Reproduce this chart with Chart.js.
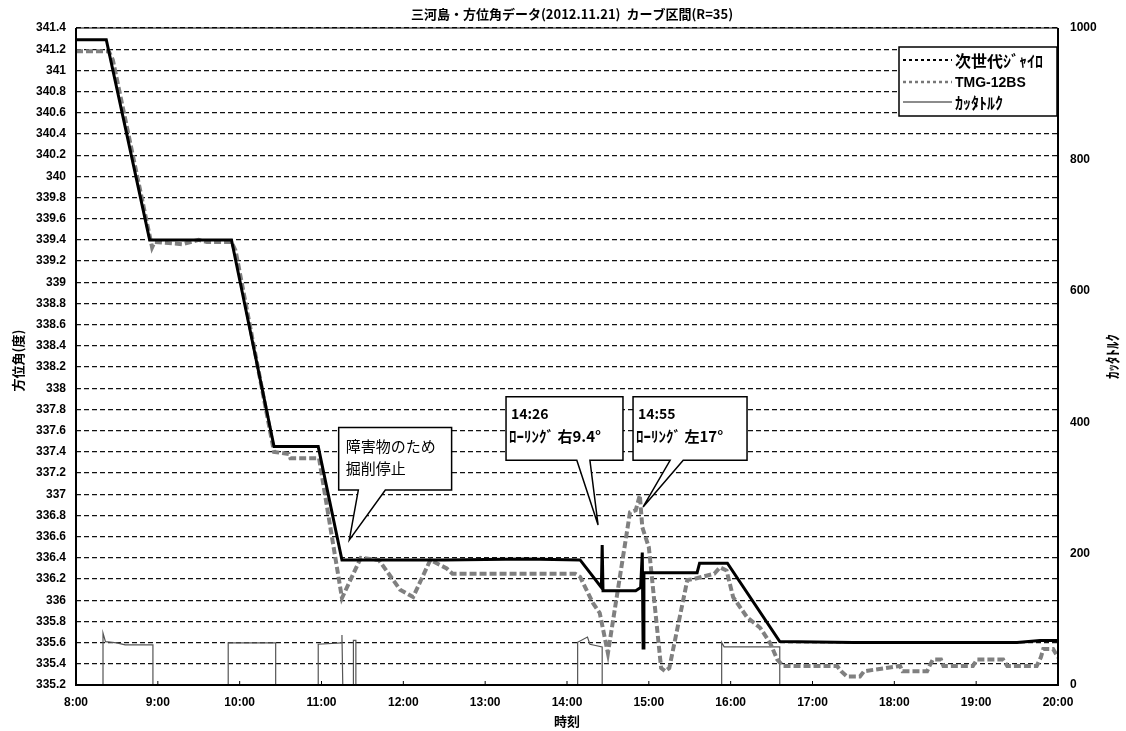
<!DOCTYPE html>
<html>
<head>
<meta charset="utf-8">
<script src="https://cdn.jsdelivr.net/npm/chart.js@4"></script>
<style>
  html, body { margin: 0; padding: 0; background: #fff; }
  #wrap { width: 1126px; height: 731px; }
</style>
</head>
<body>
<div id="wrap"><canvas id="chart" width="1126" height="731"></canvas></div>
<script>
// 次世代ジャイロ (時刻[h], 方位角[度])
const gyroTime = [8.0, 8.37, 8.9, 9.9, 10.42, 10.96, 11.25, 12.5, 13.5, 14.16, 14.42, 14.43, 14.44, 14.84, 14.9, 14.92, 14.93, 14.94, 15.59, 15.62, 15.96, 16.6, 17.5, 18.5, 19.5, 19.78, 20.0];
const gyroAngle = [341.29, 341.29, 339.40, 339.40, 337.45, 337.45, 336.38, 336.38, 336.39, 336.38, 336.12, 336.52, 336.09, 336.09, 336.12, 336.45, 335.55, 336.26, 336.26, 336.35, 336.35, 335.61, 335.60, 335.60, 335.60, 335.62, 335.62];

// TMG-12BS
const tmgTime = [8.0, 8.4, 8.45, 8.93, 8.96, 9.3, 9.5, 9.6, 9.9, 9.95, 10.42, 10.6, 10.62, 10.97, 11.25, 11.48, 11.7, 11.96, 12.12, 12.33, 12.53, 12.6, 14.1, 14.16, 14.32, 14.4, 14.5, 14.77, 14.84, 14.89, 14.92, 15.0, 15.15, 15.2, 15.25, 15.47, 15.55, 15.65, 15.8, 15.87, 15.95, 16.03, 16.2, 16.36, 16.48, 16.57, 16.64, 17.3, 17.35, 17.42, 17.58, 17.63, 18.07, 18.1, 18.4, 18.43, 18.47, 18.57, 18.6, 18.96, 19.01, 19.33, 19.38, 19.74, 19.79, 19.82, 19.94, 20.0];
const tmgAngle = [341.18, 341.18, 341.10, 339.33, 339.38, 339.36, 339.40, 339.38, 339.38, 339.30, 337.40, 337.38, 337.34, 337.34, 336.02, 336.40, 336.38, 336.10, 336.03, 336.38, 336.30, 336.25, 336.25, 336.22, 335.97, 335.88, 335.50, 336.83, 336.85, 336.99, 336.69, 336.50, 335.36, 335.33, 335.36, 336.19, 336.20, 336.22, 336.25, 336.31, 336.28, 336.03, 335.84, 335.74, 335.60, 335.44, 335.38, 335.38, 335.33, 335.28, 335.28, 335.33, 335.38, 335.33, 335.33, 335.38, 335.44, 335.44, 335.38, 335.38, 335.44, 335.44, 335.38, 335.38, 335.46, 335.54, 335.54, 335.46];

// カッタトルク (右軸)
const torqueTime = [8.0, 8.33, 8.33, 8.36, 8.5, 8.6, 8.94, 8.94, 9.86, 9.86, 10.44, 10.44, 10.96, 10.96, 11.24, 11.25, 11.26, 11.39, 11.39, 11.42, 11.42, 14.13, 14.13, 14.25, 14.28, 14.43, 14.43, 15.89, 15.89, 15.92, 16.6, 16.6, 20.0];
const torqueValue = [0, 0, 79, 66, 64, 61, 61, 0, 0, 64, 64, 0, 0, 62, 64, 76, 0, 0, 68, 68, 0, 0, 65, 73, 62, 58, 0, 0, 65, 58, 58, 0, 0];

const seriesNames = ['次世代ｼﾞｬｲﾛ', 'TMG-12BS', 'ｶｯﾀﾄﾙｸ'];
const chartTitle = '三河島・方位角データ(2012.11.21)  カーブ区間(R=35)';

// 吹き出し: 枠(時刻・角度)、根元、先端
const callouts = [
  { lines: ['障害物のため', '掘削停止'], t0: 11.21, t1: 12.59, v0: 337.63, v1: 337.04, b0: 11.45, b1: 11.78, tipT: 11.34, tipV: 336.57, big: true },
  { lines: ['14:26', 'ﾛｰﾘﾝｸﾞ 右9.4°'], t0: 13.255, t1: 14.684, v0: 337.92, v1: 337.32, b0: 14.12, b1: 14.28, tipT: 14.38, tipV: 336.71 },
  { lines: ['14:55', 'ﾛｰﾘﾝｸﾞ 左17°'], t0: 14.807, t1: 16.2, v0: 337.92, v1: 337.32, b0: 15.26, b1: 15.42, tipT: 14.93, tipV: 336.88 }
];

const toPoints = (xs, ys) => xs.map((x, i) => ({ x, y: ys[i] }));

const numFont = "'Liberation Sans', Arial, sans-serif";
const jpFont = "'Noto Sans CJK JP', sans-serif";

const decorPlugin = {
  id: 'decor',
  afterDraw(chart) {
    const { ctx, chartArea: a, scales } = chart;
    const xs = scales.x, ys = scales.y;
    ctx.save();

    // 枠
    ctx.strokeStyle = '#000';
    ctx.setLineDash([]);
    ctx.lineWidth = 1;
    ctx.beginPath(); ctx.moveTo(a.left, a.top); ctx.lineTo(a.right, a.top); ctx.stroke();
    ctx.lineWidth = 2;
    ctx.beginPath();
    ctx.moveTo(a.left, a.top); ctx.lineTo(a.left, a.bottom); ctx.lineTo(a.right, a.bottom); ctx.lineTo(a.right, a.top);
    ctx.stroke();

    // x軸 内向き目盛
    ctx.lineWidth = 1;
    for (let h = 9; h < 20; h++) {
      const px = xs.getPixelForValue(h);
      ctx.beginPath(); ctx.moveTo(px, a.bottom); ctx.lineTo(px, a.bottom - 4); ctx.stroke();
    }

    // タイトル
    ctx.fillStyle = '#000';
    ctx.textAlign = 'center';
    ctx.textBaseline = 'middle';
    ctx.font = 'bold 13px ' + jpFont;
    ctx.fillText(chartTitle, (a.left + a.right) / 2 + 5, 14);
    ctx.fillText('時刻', (a.left + a.right) / 2, 721);

    // 軸タイトル
    const midY = (a.top + a.bottom) / 2;
    ctx.save(); ctx.translate(18, midY + 4); ctx.rotate(-Math.PI / 2);
    ctx.fillText('方位角(度)', 0, 0); ctx.restore();
    ctx.save(); ctx.translate(1112, midY); ctx.rotate(-Math.PI / 2);
    ctx.font = 'bold 15px ' + jpFont;
    ctx.fillText('ｶｯﾀﾄﾙｸ', 0, 0); ctx.restore();

    // 吹き出し
    callouts.forEach(c => {
      const L = xs.getPixelForValue(c.t0), R = xs.getPixelForValue(c.t1);
      const T = ys.getPixelForValue(c.v0), B = ys.getPixelForValue(c.v1);
      const bx0 = xs.getPixelForValue(c.b0), bx1 = xs.getPixelForValue(c.b1);
      const tx = xs.getPixelForValue(c.tipT), ty = ys.getPixelForValue(c.tipV);
      ctx.beginPath();
      ctx.moveTo(L, T); ctx.lineTo(R, T); ctx.lineTo(R, B);
      ctx.lineTo(bx1, B); ctx.lineTo(tx, ty); ctx.lineTo(bx0, B);
      ctx.lineTo(L, B); ctx.closePath();
      ctx.fillStyle = '#fff'; ctx.fill();
      ctx.lineWidth = 1.5; ctx.strokeStyle = '#000'; ctx.stroke();
      ctx.fillStyle = '#000';
      ctx.textAlign = 'left';
      if (c.big) {
        ctx.font = '15px ' + jpFont;
        ctx.fillText(c.lines[0], L + 7, T + 19);
        ctx.fillText(c.lines[1], L + 7, T + 41);
      } else {
        ctx.font = 'bold 14px ' + jpFont;
        ctx.fillText(c.lines[0], L + 5, T + 17);
        ctx.font = 'bold 15px ' + jpFont;
        ctx.fillText(c.lines[1], L + 3, T + 40);
      }
    });

    // 凡例
    const lx = a.right - 159, ly = a.top + 19, lw = 158, lh = 69;
    ctx.setLineDash([]);
    ctx.fillStyle = '#fff';
    ctx.fillRect(lx, ly, lw, lh);
    ctx.lineWidth = 1.5; ctx.strokeStyle = '#000';
    ctx.strokeRect(lx, ly, lw, lh);
    const rows = [
      { y: ly + 13, color: '#000', width: 2, dash: [3, 3] },
      { y: ly + 35, color: '#777', width: 2.5, dash: [3, 3] },
      { y: ly + 55, color: '#666', width: 1.5, dash: [] }
    ];
    rows.forEach((r, i) => {
      ctx.beginPath();
      ctx.setLineDash(r.dash);
      ctx.strokeStyle = r.color; ctx.lineWidth = r.width;
      ctx.moveTo(lx + 4, r.y); ctx.lineTo(lx + 53, r.y); ctx.stroke();
      ctx.setLineDash([]);
      ctx.fillStyle = '#000';
      ctx.textAlign = 'left';
      ctx.font = i === 1 ? 'bold 14px ' + numFont : 'bold 16px ' + jpFont;
      ctx.fillText(seriesNames[i], lx + 56, r.y + 1);
    });

    ctx.restore();
  }
};

new Chart(document.getElementById('chart'), {
  type: 'line',
  data: {
    datasets: [
      {
        label: seriesNames[0],
        data: toPoints(gyroTime, gyroAngle),
        borderColor: '#000',
        borderWidth: 3,
        yAxisID: 'y'
      },
      {
        label: seriesNames[1],
        data: toPoints(tmgTime, tmgAngle),
        borderColor: '#808080',
        borderWidth: 4,
        borderDash: [7, 3],
        yAxisID: 'y'
      },
      {
        label: seriesNames[2],
        data: toPoints(torqueTime, torqueValue),
        borderColor: '#555',
        borderWidth: 1.2,
        yAxisID: 'y2'
      }
    ]
  },
  options: {
    responsive: false,
    animation: false,
    layout: { padding: { top: 28, left: 0, right: 0, bottom: 0 } },
    elements: { point: { radius: 0 }, line: { tension: 0 } },
    plugins: { legend: { display: false }, tooltip: { enabled: false }, title: { display: false } },
    scales: {
      x: {
        type: 'linear',
        min: 8,
        max: 20,
        grid: { display: false, drawTicks: false },
        border: { display: false },
        ticks: {
          stepSize: 1,
          autoSkip: false,
          maxRotation: 0,
          padding: 10,
          color: '#000',
          font: { family: numFont, size: 12, weight: 'bold' },
          callback: v => v + ':00'
        },
        afterFit: s => { s.height = 46; }
      },
      y: {
        position: 'left',
        min: 335.2,
        max: 341.4,
        grid: { color: '#111', lineWidth: 1.3, drawTicks: false },
        border: { display: false, dash: [5, 3] },
        ticks: {
          stepSize: 0.2,
          autoSkip: false,
          padding: 10,
          color: '#000',
          font: { family: numFont, size: 12, weight: 'bold' },
          callback: v => String(Math.round(v * 10) / 10)
        },
        afterFit: s => { s.width = 76; }
      },
      y2: {
        position: 'right',
        min: 0,
        max: 1000,
        grid: { drawOnChartArea: false, drawTicks: false },
        border: { display: false },
        ticks: {
          stepSize: 200,
          padding: 12,
          color: '#000',
          font: { family: numFont, size: 12, weight: 'bold' },
          callback: v => String(v)
        },
        afterFit: s => { s.width = 68; }
      }
    }
  },
  plugins: [decorPlugin]
});
</script>
</body>
</html>
